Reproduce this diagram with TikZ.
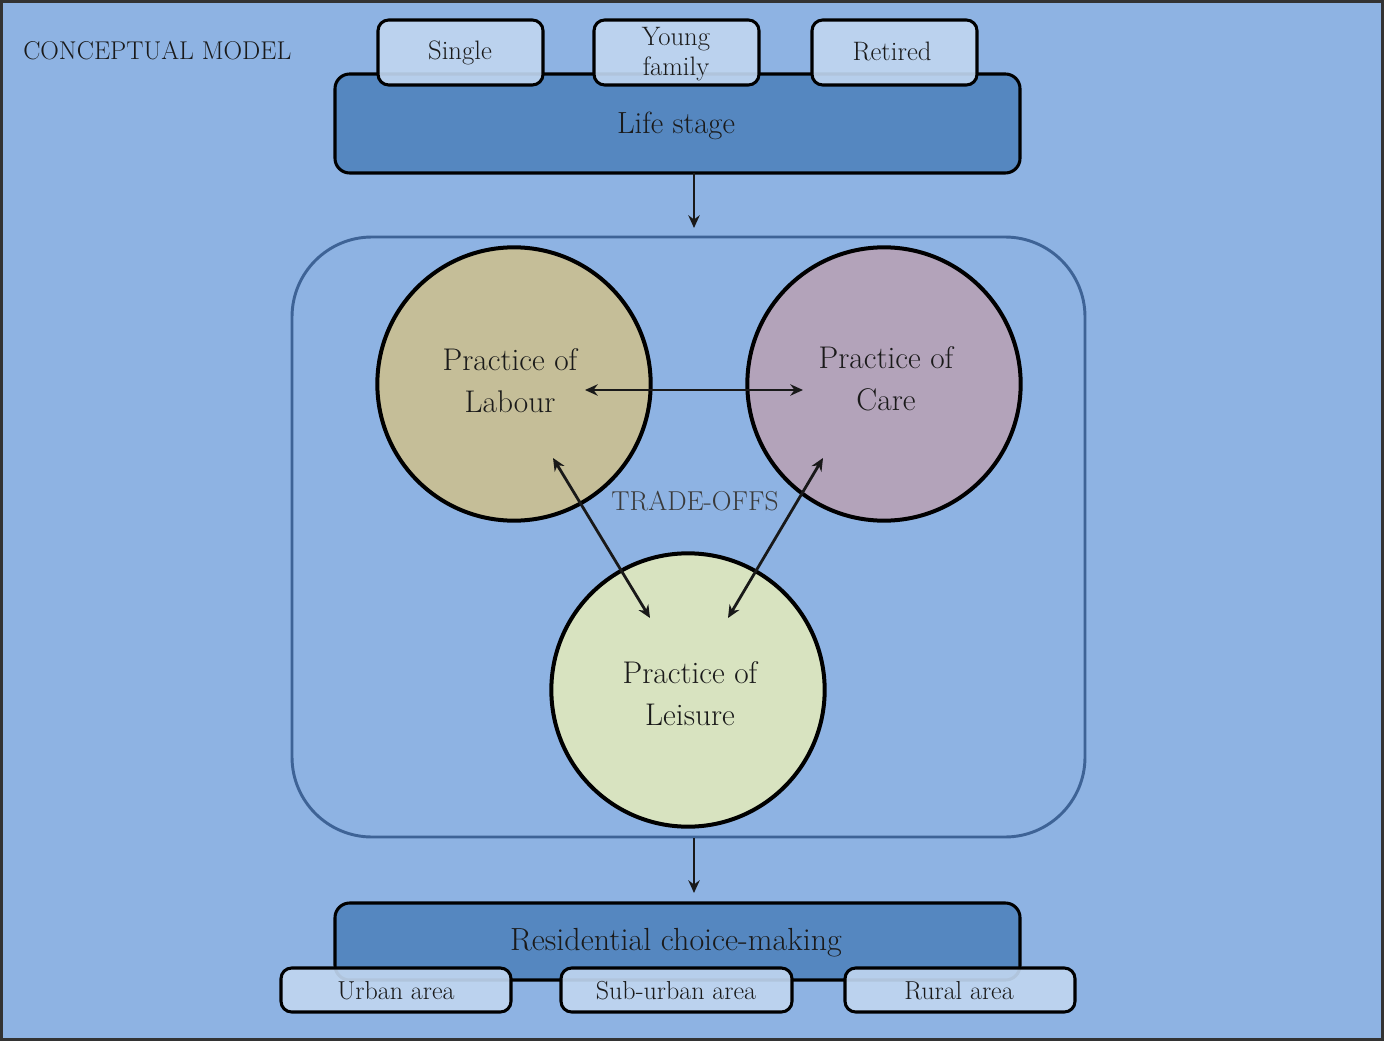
\documentclass[tikz,border=0pt]{standalone}
\usetikzlibrary{arrows.meta}
\definecolor{bg}{HTML}{8EB3E3}
\definecolor{frame}{HTML}{333333}
\definecolor{darkbox}{HTML}{5587C0}
\definecolor{lightbox}{HTML}{BFD5EF}
\definecolor{innerline}{HTML}{3E6396}
\definecolor{labour}{HTML}{C5BE98}
\definecolor{care}{HTML}{B3A3BA}
\definecolor{leisure}{HTML}{D8E3C0}
\definecolor{txt}{HTML}{1A1A1A}
\definecolor{tradetxt}{HTML}{3A3A3A}
\newcommand{\fs}[1]{\fontsize{#1}{1.15\dimexpr #1pt\relax}\selectfont}
\begin{document}
\begin{tikzpicture}[x=0.75pt,y=-0.75pt,
  bigbox/.style={draw=black,line width=2.3pt,fill=darkbox,rounded corners=11pt},
  smallbox/.style={draw=black,line width=2.3pt,fill=lightbox,fill opacity=0.92,rounded corners=8pt},
  practice/.style={circle,draw=black,line width=3pt,minimum size=205pt,inner sep=0pt},
  lbl/.style={text=txt,align=center,inner sep=0pt},
  arr/.style={line width=2.1pt,draw=black!90,-{Stealth[length=9.5pt,width=8.5pt]}},
  darr/.style={line width=2.1pt,draw=black!90,{Stealth[length=9.5pt,width=8.5pt]}-{Stealth[length=9.5pt,width=8.5pt]}}]
\useasboundingbox (0,0) rectangle (1384,1041);
\fill[bg] (0,0) rectangle (1384,1041);
\draw[frame,line width=2.4pt] (1.5,1.5) rectangle (1382.5,1039.5);

\node[lbl,anchor=west,font=\fs{19.3}] (title) at (23,51) {CONCEPTUAL MODEL};

% life stage
\draw[bigbox] (335,74) rectangle (1020,173);
\node[lbl,font=\fs{23}] (life) at (676,126) {Life stage};
\draw[smallbox] (378,20) rectangle (543,85);
\node[lbl,font=\fs{20}] (single) at (460,53) {Single};
\draw[smallbox] (594,20) rectangle (759,85);
\node[lbl,font=\fs{20}] (young) at (676,54) {Young\\family};
\draw[smallbox] (812,20) rectangle (977,85);
\node[lbl,font=\fs{20}] (retired) at (892,51) {Retired};

% inner frame
\draw[innerline,line width=2.2pt,rounded corners=60pt] (292,237) rectangle (1085,837);
\coordinate (lifebot) at (694,173);
\coordinate (innertop) at (694,228);
\coordinate (innerbot) at (694,838);
\coordinate (resttop) at (694,893);
\draw[arr] (lifebot) -- (innertop);
\draw[arr] (innerbot) -- (resttop);

% circles
\node[practice,fill=labour] (labour) at (514,384) {};
\node[practice,fill=care] (care) at (884,384) {};
\node[practice,fill=leisure] (leisure) at (688,690) {};
\node[lbl,font=\fs{23.5}] (labourtxt) at (510,381) {Practice of\\[4.5pt]Labour};
\node[lbl,font=\fs{23.5}] (caretxt) at (886,379) {Practice of\\[4.5pt]Care};
\node[lbl,font=\fs{23.5}] (leisuretxt) at (690,694) {Practice of\\[4.5pt]Leisure};

\node[text=tradetxt,font=\fs{20.5},inner sep=0pt] (trade) at (695,501) {TRADE-OFFS};

\coordinate (hl) at (585,390);
\coordinate (hr) at (803,390);
\coordinate (d1a) at (553,458);
\coordinate (d1b) at (650,618);
\coordinate (d2a) at (823,458);
\coordinate (d2b) at (728,618);
\draw[darr] (hl) -- (hr);
\draw[darr] (d1a) -- (d1b);
\draw[darr] (d2a) -- (d2b);

% residential
\draw[bigbox] (335,903) rectangle (1020,980);
\node[lbl,font=\fs{24}] (res) at (676,943) {Residential choice-making};
\draw[smallbox] (281,968) rectangle (511,1012);
\node[lbl,font=\fs{19.5}] (urban) at (396,991) {Urban area};
\draw[smallbox] (561,968) rectangle (792,1012);
\node[lbl,font=\fs{19.5}] (suburban) at (676,991) {Sub-urban area};
\draw[smallbox] (845,968) rectangle (1075,1012);
\node[lbl,font=\fs{19.5}] (rural) at (959,991) {Rural area};
\end{tikzpicture}
\end{document}
